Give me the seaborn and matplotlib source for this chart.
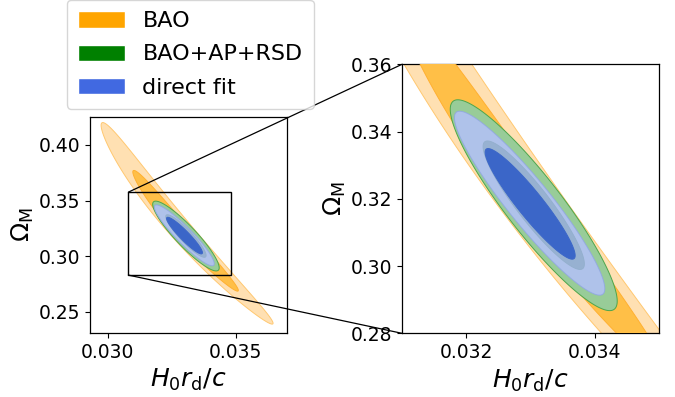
import numpy as np
import matplotlib.pyplot as plt
import seaborn as sns
from matplotlib.patches import Patch, Rectangle, ConnectionPatch

sns.set_style('ticks')
plt.rcParams['font.family'] = ['DejaVu Sans']
plt.rcParams['mathtext.fontset'] = 'dejavusans'
for key in ['text.color', 'axes.labelcolor', 'xtick.color', 'ytick.color', 'axes.edgecolor']:
    plt.rcParams[key] = 'black'

# contours
# midline of each contour: x(y) = x0 + slope*(y - y0) + curv*(y - y0)**2
labels = ['BAO', 'BAO+AP+RSD', 'direct fit']
mid_x0 = [0.0326, 0.03305, 0.03299]
mid_y0 = [0.330, 0.3181, 0.3186]
mid_slope = [-0.0365, -0.0377, -0.0398]
mid_curv = [0.06, 0.0, 0.0]

# per dataset [2 sigma, 1 sigma]: centre y, half height, half width at centre
level_yc = [[0.3295, 0.3228], [0.3181, 0.3181], [0.3187, 0.3185]]
level_dy = [[0.0905, 0.0542], [0.03135, 0.0191], [0.02735, 0.01645]]
level_w = [[0.00056, 0.00038], [0.00054, 0.00032], [0.00043, 0.00025]]

# zoom window and the box drawn for it on the left panel
zoom_x = [0.031, 0.035]
zoom_y = [0.28, 0.36]
box_x = [0.0308, 0.0348]
box_y = [0.283, 0.3575]

legend_colors = ['orange', 'green', 'royalblue']
fill_colors = [['#FFE0B2', '#FFBF47'], ['#98CC98', '#207820'], ['#B6C0FF', '#3B66C8']]
edge_colors = [['#FFC870', '#FFB030'], ['#4CA64C', '#0A6E0A'], ['#8FA4E6', '#3B66C8']]
fill_alpha = [[1.0, 1.0], [1.0, 1.0], [0.8, 1.0]]


def contour_xy(i, j):
    t = np.linspace(0, 2 * np.pi, 500)
    y = level_yc[i][j] + level_dy[i][j] * np.sin(t)
    dy = y - mid_y0[i]
    x = mid_x0[i] + mid_slope[i] * dy + mid_curv[i] * dy ** 2 + level_w[i][j] * np.cos(t)
    return x, y


def draw_contours(ax):
    for i in range(len(labels)):
        for j in range(2):
            x, y = contour_xy(i, j)
            ax.fill(x, y, facecolor=fill_colors[i][j], edgecolor=edge_colors[i][j],
                    alpha=fill_alpha[i][j], lw=0.7, zorder=2 + 2 * i + j)


fig = plt.figure(figsize=(6.75, 3.97), dpi=100)
ax1 = fig.add_axes([0.1333, 0.1612, 0.2919, 0.5441])
ax2 = fig.add_axes([0.5956, 0.1604, 0.3807, 0.6776])

draw_contours(ax1)
draw_contours(ax2)

ax1.set_xlim(0.0293, 0.0370)
ax1.set_ylim(0.231, 0.425)
ax1.set_xticks([0.030, 0.035])
ax1.set_yticks([0.25, 0.30, 0.35, 0.40])
ax2.set_xlim(zoom_x)
ax2.set_ylim(zoom_y)
ax2.set_xticks([0.032, 0.034])
ax2.set_yticks([0.28, 0.30, 0.32, 0.34, 0.36])

for ax in (ax1, ax2):
    ax.set_xlabel(r'$H_0 r_\mathrm{d}/c$', fontsize=18)
    ax.set_ylabel(r'$\Omega_\mathrm{M}$', fontsize=18, labelpad=2)
    ax.tick_params(labelsize=13.5, length=3.5, width=0.8)
    for s in ax.spines.values():
        s.set_linewidth(0.9)
ax1.xaxis.set_major_formatter(plt.FormatStrFormatter('%.3f'))
ax1.yaxis.set_major_formatter(plt.FormatStrFormatter('%.2f'))
ax2.xaxis.set_major_formatter(plt.FormatStrFormatter('%.3f'))
ax2.yaxis.set_major_formatter(plt.FormatStrFormatter('%.2f'))

# box on the left panel and lines to the zoomed panel
ax1.add_patch(Rectangle((box_x[0], box_y[0]), box_x[1] - box_x[0], box_y[1] - box_y[0],
                        fill=False, edgecolor='black', lw=1.0, zorder=10))
for by, zy in [(box_y[1], zoom_y[1]), (box_y[0], zoom_y[0])]:
    con = ConnectionPatch(xyA=(box_x[0], by), coordsA=ax1.transData,
                          xyB=(zoom_x[0], zy), coordsB=ax2.transData,
                          color='black', lw=0.9)
    fig.add_artist(con)

handles = [Patch(facecolor=c, label=l) for c, l in zip(legend_colors, labels)]
fig.legend(handles=handles, loc='upper left', bbox_to_anchor=(0.099, 1.0),
           borderaxespad=0, fontsize=16, frameon=True, labelspacing=0.6,
           borderpad=0.5, handlelength=2.1, handleheight=0.75)

fig.savefig('out.png', dpi=100)
